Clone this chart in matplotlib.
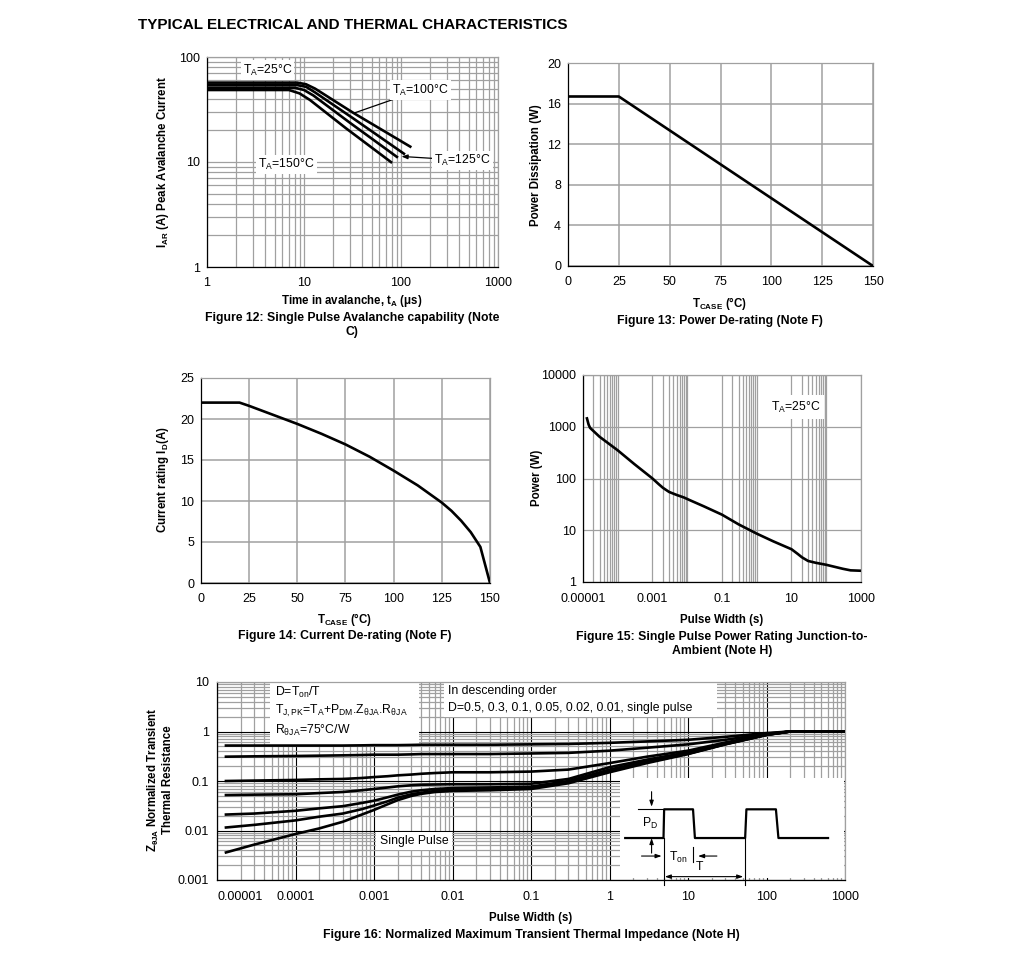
import matplotlib
matplotlib.use("Agg")
import matplotlib.pyplot as plt
import matplotlib.ticker as mticker
import matplotlib.patches as mpatches

plt.rcParams["font.family"] = ["Liberation Sans", "DejaVu Sans"]
plt.rcParams["mathtext.fontset"] = "custom"
plt.rcParams["mathtext.rm"] = "Liberation Sans"
plt.rcParams["mathtext.it"] = "Liberation Sans:italic"
plt.rcParams["mathtext.bf"] = "Liberation Sans:bold"
plt.rcParams["mathtext.default"] = "rm"

# ---- Figure 12: avalanche current vs time (log-log)
t_25 = [1, 8.5, 10.5, 13, 32, 128]
i_25 = [57, 57, 55, 50, 29.5, 13.8]
t_100 = [1, 8.5, 10.5, 13, 32, 110]
i_100 = [54, 54, 52, 46, 26.1, 11.8]
t_125 = [1, 8, 10, 12.5, 30, 93]
i_125 = [51, 51, 48.5, 43, 23.5, 11]
t_150 = [1, 7, 9, 11.5, 27, 81]
i_150 = [48.5, 48.5, 45, 39, 21, 9.8]

# ---- Figure 13: power de-rating
tc_pd = [0, 25, 150]
pd_w = [16.7, 16.7, 0]

# ---- Figure 14: current de-rating
tc_id = [0, 20, 25, 37.5, 50, 62.5, 75, 87.5, 100, 112.5, 125, 130, 135, 140, 145, 150]
id_a = [22, 22, 21.6, 20.5, 19.4, 18.2, 16.9, 15.4, 13.7, 11.9, 9.8, 8.8, 7.6, 6.2, 4.4, 0]

# ---- Figure 15: single pulse power rating
pw15 = [1.3e-5, 1.45e-5, 1.6e-5, 3e-5, 1e-4, 3e-4, 1e-3, 1.5e-3, 2e-3, 3e-3, 5e-3, 8e-3,
        1.2e-2, 3e-2, 0.1, 0.3, 1, 3, 10, 15, 20, 30, 50, 100, 300, 500, 1000]
pwr15 = [1450, 1100, 950, 640, 350, 190, 100, 78, 66, 55, 48, 43,
         38, 29, 20, 13, 8.6, 6.1, 4.3, 3.5, 3.0, 2.55, 2.35, 2.15, 1.8, 1.68, 1.65]

# ---- Figure 16: normalized transient thermal impedance
pw16 = [1.3e-5, 3e-5, 1e-4, 2e-4, 4e-4, 7e-4, 1e-3, 1.5e-3, 2e-3, 3e-3, 4e-3, 6e-3,
        1e-2, 3e-2, 0.1, 0.3, 1, 3, 10, 30, 100, 200, 1000]
z_d50 = [0.52, 0.52, 0.52, 0.52, 0.52, 0.525, 0.53, 0.53, 0.53, 0.535, 0.54, 0.54,
         0.54, 0.54, 0.55, 0.56, 0.59, 0.63, 0.68, 0.78, 0.93, 1.0, 1.0]
z_d30 = [0.31, 0.315, 0.32, 0.325, 0.33, 0.335, 0.34, 0.34, 0.34, 0.345, 0.35, 0.35,
         0.35, 0.35, 0.36, 0.37, 0.41, 0.47, 0.55, 0.68, 0.9, 1.0, 1.0]
z_d10 = [0.10, 0.102, 0.105, 0.108, 0.11, 0.115, 0.12, 0.125, 0.13, 0.135, 0.14, 0.145,
         0.15, 0.15, 0.155, 0.17, 0.23, 0.31, 0.41, 0.6, 0.87, 1.0, 1.0]
z_d05 = [0.052, 0.053, 0.054, 0.057, 0.06, 0.065, 0.069, 0.074, 0.078, 0.082, 0.084, 0.085,
         0.086, 0.086, 0.088, 0.11, 0.19, 0.27, 0.38, 0.57, 0.86, 1.0, 1.0]
z_d02 = [0.021, 0.022, 0.025, 0.028, 0.031, 0.036, 0.04, 0.047, 0.053, 0.061, 0.065, 0.069,
         0.072, 0.074, 0.077, 0.1, 0.17, 0.25, 0.36, 0.56, 0.86, 1.0, 1.0]
z_d01 = [0.0115, 0.013, 0.016, 0.019, 0.022, 0.027, 0.032, 0.039, 0.046, 0.054, 0.058, 0.063,
         0.067, 0.07, 0.072, 0.095, 0.16, 0.24, 0.355, 0.555, 0.855, 1.0, 1.0]
z_single = [0.0036, 0.0052, 0.0085, 0.011, 0.015, 0.021, 0.026, 0.034, 0.041, 0.05, 0.055, 0.06,
            0.063, 0.065, 0.069, 0.09, 0.15, 0.23, 0.35, 0.55, 0.85, 1.0, 1.0]

W, H = 1020, 956
GRID = "#a0a0a0"
TICK_FS = 9
LBL_FS = 8.3
CAP_FS = 8.8
NOTE_FS = 8.8
LW = 1.9


def ax_at(fig, l, t, r, b):
    return fig.add_axes([l / W, 1 - b / H, (r - l) / W, (b - t) / H])


def ftext(fig, x, y, s, **kw):
    kw.setdefault("ha", "center")
    kw.setdefault("va", "center")
    fig.text(x / W, 1 - y / H, s, **kw)


def style(ax, pad_x=7, pad_y=5):
    for s in ("top", "right"):
        ax.spines[s].set_color(GRID)
    for s in ("left", "bottom"):
        ax.spines[s].set_color("black")
    for s in ax.spines.values():
        s.set_linewidth(0.9)
    ax.tick_params(which="both", length=0, labelsize=TICK_FS)
    ax.tick_params(axis="x", pad=pad_x)
    ax.tick_params(axis="y", pad=pad_y)
    ax.set_axisbelow(True)


def plain(v, pos=None):
    return ("%f" % v).rstrip("0").rstrip(".")


box = dict(facecolor="white", edgecolor="none", pad=1.5)

fig = plt.figure(figsize=(W / 100, H / 100), dpi=100)
ftext(fig, 138, 25, "TYPICAL ELECTRICAL AND THERMAL CHARACTERISTICS",
      ha="left", fontsize=11, fontweight="bold")

# Figure 12
ax = ax_at(fig, 207, 57, 498, 267)
for t, i in ((t_25, i_25), (t_100, i_100), (t_125, i_125), (t_150, i_150)):
    ax.plot(t, i, color="black", lw=LW, solid_capstyle="butt", zorder=3)
ax.set_xscale("log")
ax.set_yscale("log")
ax.set_xlim(1, 1000)
ax.set_ylim(1, 100)
for a in (ax.xaxis, ax.yaxis):
    a.set_major_locator(mticker.LogLocator(base=10, numticks=10))
    a.set_minor_locator(mticker.LogLocator(base=10, subs=range(2, 10), numticks=20))
    a.set_major_formatter(mticker.FuncFormatter(plain))
    a.set_minor_formatter(mticker.NullFormatter())
ax.grid(which="both", color=GRID, lw=0.9)
style(ax)
ax.text(4.2, 75, "T$_A$=25°C", fontsize=NOTE_FS, ha="center", va="center", bbox=box, zorder=4)
ax.text(6.6, 9.4, "T$_A$=150°C", fontsize=NOTE_FS, ha="center", va="center", bbox=box, zorder=4)
ax.annotate("T$_A$=100°C", xy=(33, 29.3), xytext=(158, 48.5), fontsize=NOTE_FS,
            ha="center", va="center", bbox=box, zorder=4,
            arrowprops=dict(arrowstyle="-", color="black", lw=0.9, shrinkA=0, shrinkB=0))
ax.annotate("T$_A$=125°C", xy=(101, 11.3), xytext=(430, 10.4), fontsize=NOTE_FS,
            ha="center", va="center", bbox=box, zorder=4,
            arrowprops=dict(arrowstyle="-|>,head_length=0.4,head_width=0.15",
                            color="black", lw=0.9, shrinkA=0, shrinkB=0))
ftext(fig, 163, 162, r"I$_\mathbf{AR}$ (A) Peak Avalanche Current",
      rotation=90, fontsize=LBL_FS, fontweight="bold")
ftext(fig, 352, 301, r"Time in avalanche, t$_\mathbf{A}$ ($\mathbf{\mu}$s)",
      fontsize=LBL_FS, fontweight="bold")
ftext(fig, 352, 325, "Figure 12: Single Pulse Avalanche capability (Note\nC)",
      fontsize=CAP_FS, fontweight="bold", linespacing=1.2)

# Figure 13
ax = ax_at(fig, 568, 63, 873, 266)
ax.plot(tc_pd, pd_w, color="black", lw=LW, zorder=3)
ax.set_xlim(0, 150)
ax.set_ylim(0, 20)
ax.set_xticks(range(0, 151, 25))
ax.set_yticks(range(0, 21, 4))
ax.grid(color=GRID, lw=1.1)
style(ax)
ftext(fig, 536, 165, "Power Dissipation (W)", rotation=90, fontsize=LBL_FS, fontweight="bold")
ftext(fig, 720, 304, r"T$_\mathbf{CASE}$ (°C)", fontsize=LBL_FS, fontweight="bold")
ftext(fig, 720, 321, "Figure 13: Power De-rating (Note F)", fontsize=CAP_FS, fontweight="bold")

# Figure 14
ax = ax_at(fig, 201, 378, 490, 583)
ax.plot(tc_id, id_a, color="black", lw=LW, zorder=3)
ax.set_xlim(0, 150)
ax.set_ylim(0, 25)
ax.set_xticks(range(0, 151, 25))
ax.set_yticks(range(0, 26, 5))
ax.grid(color=GRID, lw=1.1)
style(ax)
ftext(fig, 163, 480, r"Current rating I$_\mathbf{D}$(A)", rotation=90,
      fontsize=LBL_FS, fontweight="bold")
ftext(fig, 345, 620, r"T$_\mathbf{CASE}$ (°C)", fontsize=LBL_FS, fontweight="bold")
ftext(fig, 345, 636, "Figure 14: Current De-rating (Note F)", fontsize=CAP_FS, fontweight="bold")

# Figure 15
ax = ax_at(fig, 583, 375, 861, 582)
ax.plot(pw15, pwr15, color="black", lw=LW, zorder=3)
ax.set_xscale("log")
ax.set_yscale("log")
ax.set_xlim(1e-5, 1000)
ax.set_ylim(1, 10000)
x_major = [1e-5, 1e-3, 1e-1, 10, 1000]
ax.xaxis.set_major_locator(mticker.FixedLocator(x_major))
ax.xaxis.set_minor_locator(mticker.FixedLocator(
    [m * b for b in x_major[:-1] for m in range(2, 11)]))
ax.yaxis.set_major_locator(mticker.FixedLocator([1, 10, 100, 1000, 10000]))
ax.yaxis.set_minor_locator(mticker.NullLocator())
ax.xaxis.set_major_formatter(mticker.FuncFormatter(plain))
ax.xaxis.set_minor_formatter(mticker.NullFormatter())
ax.yaxis.set_major_formatter(mticker.FuncFormatter(plain))
ax.grid(which="both", color=GRID, lw=0.9)
style(ax, pad_x=8)
ax.text(0.764, 0.845, "T$_A$=25°C", transform=ax.transAxes, fontsize=NOTE_FS,
        ha="center", va="center", bbox=dict(facecolor="white", edgecolor="none", pad=3), zorder=4)
ftext(fig, 537, 478, "Power (W)", rotation=90, fontsize=LBL_FS, fontweight="bold")
ftext(fig, 722, 620, "Pulse Width (s)", fontsize=LBL_FS, fontweight="bold")
ftext(fig, 722, 644, "Figure 15: Single Pulse Power Rating Junction-to-\nAmbient (Note H)",
      fontsize=CAP_FS, fontweight="bold", linespacing=1.2)

# Figure 16
ax = ax_at(fig, 217, 682, 845, 880)
for z in (z_d50, z_d30, z_d10, z_d05, z_d02, z_d01, z_single):
    ax.plot(pw16, z, color="black", lw=LW, zorder=3)
ax.set_xscale("log")
ax.set_yscale("log")
ax.set_xlim(1e-5, 1000)
ax.set_ylim(0.001, 10)
x16_major = [1e-5, 1e-4, 1e-3, 1e-2, 1e-1, 1, 10, 100, 1000]
ax.xaxis.set_major_locator(mticker.FixedLocator(x16_major))
ax.yaxis.set_major_locator(mticker.FixedLocator([0.001, 0.01, 0.1, 1, 10]))
for a in (ax.xaxis, ax.yaxis):
    a.set_minor_locator(mticker.LogLocator(base=10, subs=range(2, 10), numticks=40))
    a.set_major_formatter(mticker.FuncFormatter(plain))
    a.set_minor_formatter(mticker.NullFormatter())
ax.grid(which="minor", color=GRID, lw=0.9)
ax.grid(which="major", color="black", lw=0.8)
style(ax, pad_x=8, pad_y=6)
ax.xaxis.get_major_ticks()[0].label1.set_horizontalalignment("left")

# white text boxes and inset area
for (x0, y0, x1, y1) in ((0.0844, 0.682, 0.3217, 1.0),
                         (0.3615, 0.823, 0.796, 1.0),
                         (0.642, 0.012, 0.998, 0.515)):
    ax.add_patch(mpatches.Rectangle((x0, y0), x1 - x0, y1 - y0, transform=ax.transAxes,
                                    facecolor="white", edgecolor="none", zorder=2))
tr = ax.transAxes
tkw = dict(transform=tr, fontsize=NOTE_FS, va="center", zorder=4)
ax.text(0.092, 0.949, "D=T$_{on}$/T", **tkw)
ax.text(0.092, 0.854, "T$_{J,PK}$=T$_A$+P$_{DM}$.Z$_{θJA}$.R$_{θJA}$", **tkw)
ax.text(0.092, 0.753, "R$_{θJA}$=75°C/W", **tkw)
ax.text(0.368, 0.955, "In descending order", **tkw)
ax.text(0.368, 0.869, "D=0.5, 0.3, 0.1, 0.05, 0.02, 0.01, single pulse", **tkw)
ax.text(0.314, 0.197, "Single Pulse", transform=tr, fontsize=NOTE_FS, ha="center", va="center",
        bbox=dict(facecolor="white", edgecolor="none", pad=2.5), zorder=4)

# pulse train sketch in the inset
lo, hi = 0.212, 0.357
ax.plot([0.650, 0.711, 0.712, 0.758, 0.761, 0.841, 0.843, 0.890, 0.894, 0.973],
        [lo, lo, hi, hi, lo, lo, hi, hi, lo, lo],
        color="black", lw=1.6, transform=tr, zorder=5, clip_on=False)
thin = dict(color="black", lw=0.8, transform=tr, zorder=5, clip_on=False)
ax.plot([0.711, 0.711], [lo, -0.025], **thin)
ax.plot([0.841, 0.841], [lo, -0.025], **thin)
ax.plot([0.758, 0.758], [0.167, 0.091], **thin)
ax.plot([0.670, 0.711], [hi, hi], **thin)
akw = dict(xycoords=tr, textcoords=tr, zorder=5,
           arrowprops=dict(arrowstyle="-|>,head_length=0.35,head_width=0.12",
                           color="black", lw=0.8, shrinkA=0, shrinkB=0))
ax.annotate("", xy=(0.692, 0.370), xytext=(0.692, 0.446), **akw)
ax.annotate("", xy=(0.692, lo), xytext=(0.692, 0.136), **akw)
ax.annotate("", xy=(0.708, 0.121), xytext=(0.676, 0.121), **akw)
ax.annotate("", xy=(0.766, 0.121), xytext=(0.796, 0.121), **akw)
ax.annotate("", xy=(0.713, 0.017), xytext=(0.838, 0.017), xycoords=tr, textcoords=tr,
            zorder=5, arrowprops=dict(arrowstyle="<|-|>,head_length=0.35,head_width=0.12",
                                      color="black", lw=0.8, shrinkA=0, shrinkB=0))
ax.text(0.689, 0.288, "P$_D$", transform=tr, fontsize=NOTE_FS, ha="center", va="center", zorder=5)
ax.text(0.734, 0.116, "T$_{on}$", transform=tr, fontsize=NOTE_FS, ha="center", va="center", zorder=5)
ax.text(0.769, 0.066, "T", transform=tr, fontsize=NOTE_FS, ha="center", va="center", zorder=5)

ftext(fig, 160, 780, "Z$_\\mathbf{θJA}$ Normalized Transient\nThermal Resistance",
      rotation=90, fontsize=LBL_FS, fontweight="bold", linespacing=1.1)
ftext(fig, 531, 918, "Pulse Width (s)", fontsize=LBL_FS, fontweight="bold")
ftext(fig, 531, 935, "Figure 16: Normalized Maximum Transient Thermal Impedance (Note H)",
      fontsize=CAP_FS, fontweight="bold")

fig.savefig("out.png", dpi=100, facecolor="white")
